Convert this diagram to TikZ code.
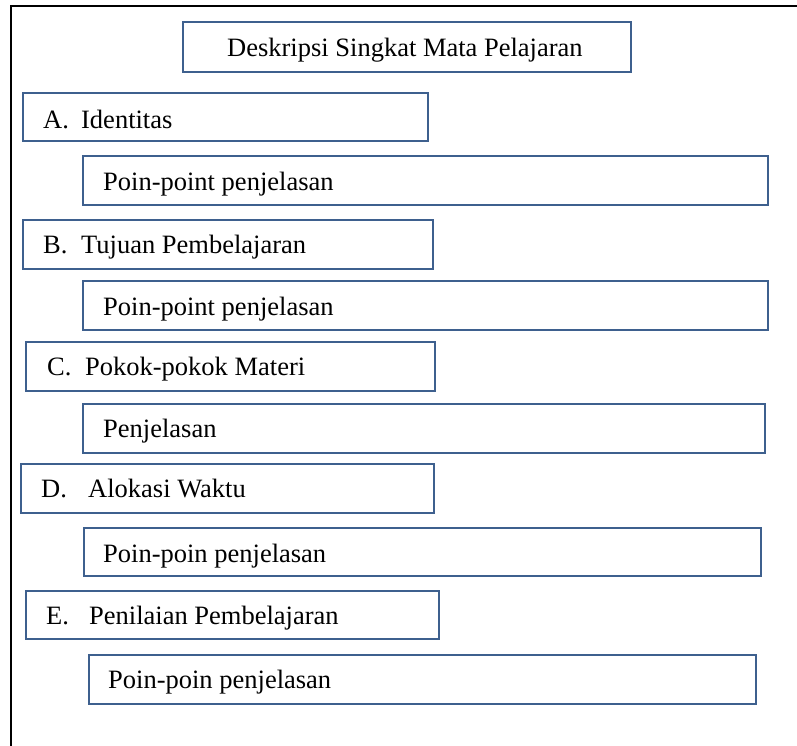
\documentclass[tikz,border=0pt]{standalone}
\usepackage{fontspec}
\setmainfont{Liberation Serif}
\usetikzlibrary{calc}
\definecolor{boxblue}{RGB}{62,96,142}
\tikzset{
  box/.style={draw=boxblue, line width=1.8pt, rectangle, inner sep=0pt},
  txt/.style={anchor=base west, inner sep=0pt, font=\fontsize{26.5}{30}\selectfont},
}
\newcommand{\mkbox}[5]{% name, x1, y1, x2, y2
  \node[box, anchor=north west, minimum width={(#4-#2)*1pt}, minimum height={(#5-#3)*1pt}] (#1) at (#2,-#3) {};}
\begin{document}
\begin{tikzpicture}[x=1pt,y=1pt]
\useasboundingbox (0,0) rectangle (797,-745);
\coordinate (fTL) at (11,-6);
\coordinate (fTR) at (797,-6);
\coordinate (fBL) at (11,-745);
\draw[line width=1.8pt, line cap=rect] (fTR) -- (fTL) -- (fBL);

\mkbox{title}{182}{21}{630}{71}
\node[txt] (ttitle) at (227,-56) {Deskripsi Singkat Mata Pelajaran};

\mkbox{a}{22}{92}{427}{140}
\node[txt] (ta) at (43,-128) {\makebox[38pt][l]{A.}Identitas};
\mkbox{asub}{82}{155}{767}{204}
\node[txt] (tasub) at (103,-190) {Poin-point penjelasan};

\mkbox{b}{22}{219}{432}{268}
\node[txt] (tb) at (43,-253) {\makebox[38pt][l]{B.}Tujuan Pembelajaran};
\mkbox{bsub}{82}{280}{767}{329}
\node[txt] (tbsub) at (103,-315) {Poin-point penjelasan};

\mkbox{c}{25}{341}{434}{390}
\node[txt] (tc) at (47,-375) {\makebox[38pt][l]{C.}Pokok-pokok Materi};
\mkbox{csub}{82}{403}{764}{452}
\node[txt] (tcsub) at (103,-437) {Penjelasan};

\mkbox{d}{20}{463}{433}{512}
\node[txt] (td) at (41,-497) {\makebox[47pt][l]{D.}Alokasi Waktu};
\mkbox{dsub}{83}{527}{760}{575}
\node[txt] (tdsub) at (103,-562) {Poin-poin penjelasan};

\mkbox{e}{25}{590}{438}{638}
\node[txt] (te) at (46,-624) {\makebox[43pt][l]{E.}Penilaian Pembelajaran};
\mkbox{esub}{88}{654}{755}{703}
\node[txt] (tesub) at (108,-688) {Poin-poin penjelasan};
\end{tikzpicture}
\end{document}
